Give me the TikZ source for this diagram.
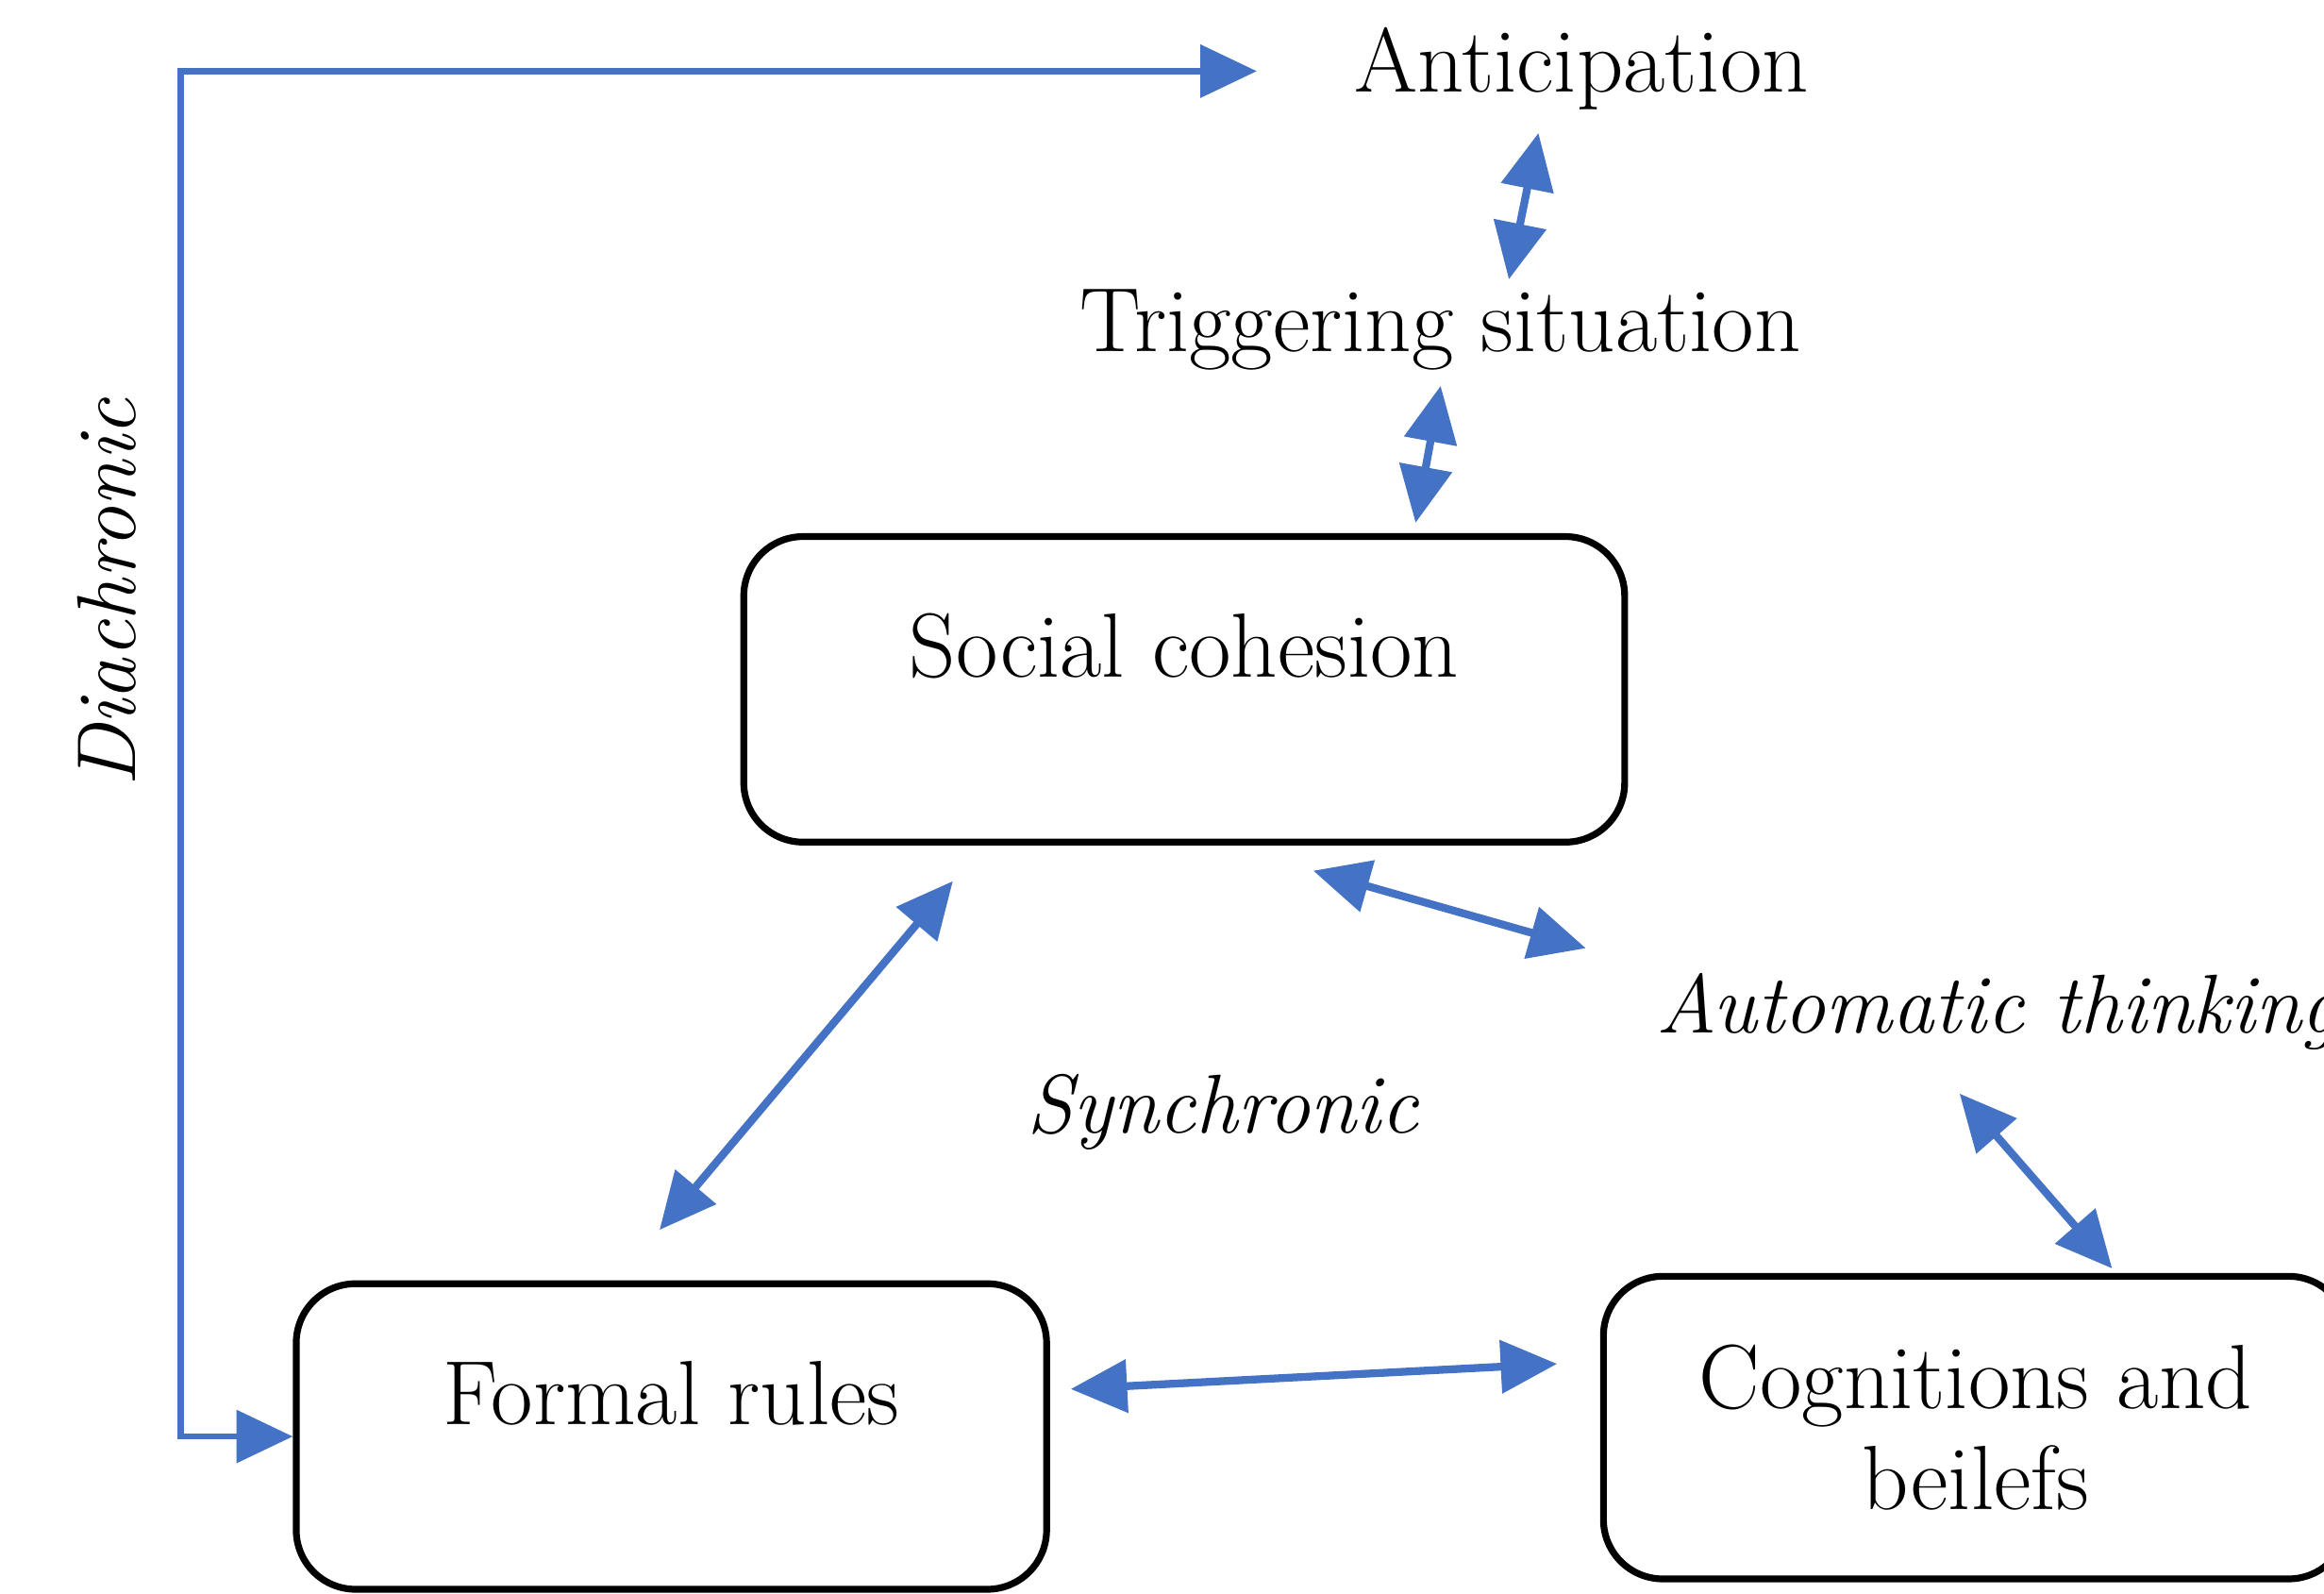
\documentclass[tikz,border=0pt]{standalone}
\usepackage{tikz}
\usetikzlibrary{arrows.meta, positioning}
\definecolor{linkblue}{RGB}{68,114,196}
\newcommand{\diagfont}{\fontsize{17.5}{19.5}\selectfont}
\newcommand{\slantfont}{\fontsize{16}{19.3}\selectfont\itshape}
\tikzset{
>={Triangle[length=3.8mm, width=3.5mm]}, % filled arrow heads
term/.style={font=\diagfont, inner sep=1mm}, % plain text nodes
phase/.style={font=\slantfont, inner sep=1mm}, % italic text nodes
box/.style={draw, line width=1.3pt, rounded corners=4mm, minimum height=2.06cm, font=\diagfont, align=center}, % rounded boxes
toptext/.style={text height=4.4mm, text depth=6mm}, % pushes a one-line text to the top of the box
twoway/.style={<->, draw=linkblue, line width=1.5pt}, % double headed links
timeline/.style={<->, draw=linkblue, line width=1.2pt}, % diachronic link
}
\begin{document}
\begin{tikzpicture}[x=0.01cm, y=-0.01cm]
\useasboundingbox (0,0) rectangle (1568,1075);
\node[term, anchor=base] (antic) at (1067,62) {Anticipation};
\node[term, anchor=base] (trigger) at (972,237) {Triggering situation};
\node[box, toptext, minimum width=5.94cm] (social) at (799,465) {Social cohesion};
\node[box, toptext, minimum width=5.06cm] (formal) at (453,969) {Formal rules};
\node[box, minimum width=5.02cm, minimum height=2.04cm] (cogn) at (1333,963) {Cognitions and\\beilefs};
\node[phase, anchor=base west] (auto) at (1107,697) {Automatic thinking};
\node[phase, anchor=base] (sync) at (825,764) {Synchronic};
\node[phase, rotate=90] (diachr) at (72,400) {Diachronic};
\coordinate (corner) at (122,48);
% links
\draw[twoway] ([xshift=-0.29cm,yshift=-0.05cm]antic.south) -- ([xshift=0.46cm,yshift=-0.04cm]trigger.north);
\draw[twoway] (trigger.south) -- ([xshift=1.56cm,yshift=0.07cm]social.north);
\draw[twoway] ([xshift=0.87cm,yshift=-0.17cm]social.south) -- ([xshift=-0.37cm,yshift=0.43cm]auto.west);
\draw[twoway] ([xshift=-0.08cm,yshift=0.34cm]formal.north) -- ([xshift=-1.56cm,yshift=-0.24cm]social.south);
\draw[twoway] ([xshift=2.15cm,yshift=-0.55cm]auto.west) -- ([xshift=0.92cm,yshift=0.03cm]cogn.north);
\draw[twoway] ([xshift=0.14cm,yshift=0.32cm]formal.east) -- ([xshift=-0.29cm,yshift=0.43cm]cogn.west);
\draw[timeline, shorten >=0.55cm] (formal.west) -| (corner) -- (corner -| antic.west);
\end{tikzpicture}
\end{document}
